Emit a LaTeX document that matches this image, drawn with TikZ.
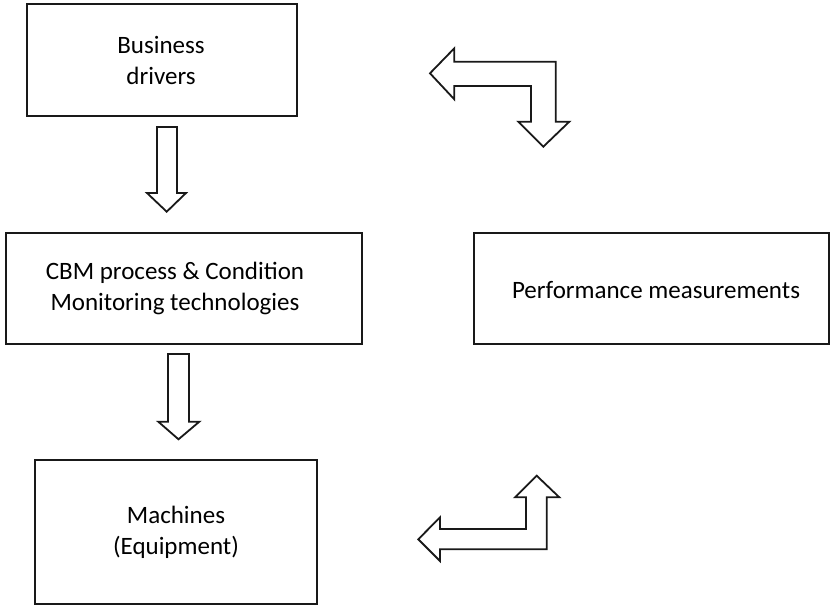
\documentclass[tikz,border=0pt]{standalone}
\usepackage{fontspec}
\setmainfont{Carlito}
\begin{document}
\begin{tikzpicture}[x=1pt,y=-1pt,
  blockbox/.style={draw=black!90,line width=2.2pt,align=center,
    font=\fontsize{25}{31}\selectfont,inner sep=0pt},
  hollowarrow/.style={draw=black!90,line width=1.8pt,fill=white,line join=miter}]
\useasboundingbox (0,0) rectangle (831,606);

% text blocks
\draw[blockbox] (27,4) rectangle (297,116);
\node[blockbox,draw=none] (drivers) at (161,60) {Business\\drivers};
\draw[blockbox] (6,233) rectangle (362,344);
\node[blockbox,draw=none] (cbm) at (175,288) {CBM process \& Condition\\Monitoring technologies};
\draw[blockbox] (474,233) rectangle (829,344);
\node[blockbox,draw=none] (perf) at (656,290) {Performance measurements};
\draw[blockbox] (35,460) rectangle (317,604);
\node[blockbox,draw=none] (mach) at (176,532) {Machines\\(Equipment)};

% straight down arrows
\draw[hollowarrow] (157,127) -- (177,127) -- (177,193) -- (186,193) -- (166.7,211.7)
  -- (147,193) -- (157,193) -- cycle;
\draw[hollowarrow] (168,354) -- (189,354) -- (189,421.7) -- (199.3,421.7) -- (178.5,439.3)
  -- (158.3,421.7) -- (168,421.7) -- cycle;

% bent arrow, upper right
\draw[hollowarrow] (430,73.3) -- (454.3,48.3) -- (454.3,61.7) -- (555.7,61.7) -- (555.7,121.7)
  -- (569.3,121.7) -- (543.3,146.7) -- (518.3,121.7) -- (531,121.7) -- (531,86)
  -- (454.3,86) -- (454.3,99.3) -- cycle;

% bent arrow, lower right
\draw[hollowarrow] (418.3,539.3) -- (440,517.3) -- (440,529) -- (526,529) -- (526,497.3)
  -- (515,497.3) -- (536.7,475.7) -- (559.3,497.3) -- (546.7,497.3) -- (546.7,549.3)
  -- (440,549.3) -- (440,561) -- cycle;
\end{tikzpicture}
\end{document}
